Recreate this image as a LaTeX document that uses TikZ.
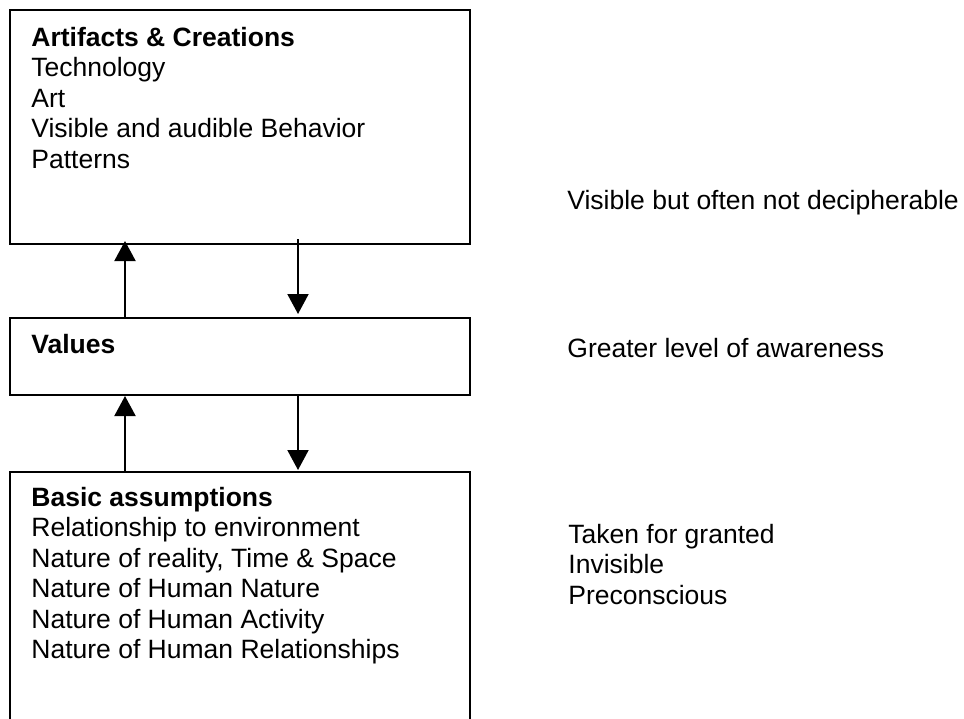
\documentclass[tikz,border=0pt]{standalone}
\usepackage{fontspec}
\setmainfont{Liberation Sans}
\usetikzlibrary{arrows.meta, positioning}

\begin{document}
\begin{tikzpicture}[x=0.5pt,y=0.5pt,yscale=-1,xscale=1,
  levelbox/.style={draw, line width=1pt, rectangle, inner sep=0pt, minimum width=230pt},
  boxtext/.style={anchor=base west, inner sep=0pt, align=left, font=\fontsize{13.25pt}{15.25pt}\selectfont},
  flow/.style={line width=1pt, -{Triangle[length=10pt, width=10.5pt]}}]
\useasboundingbox (0,0) rectangle (964,718);
\clip (0,0) rectangle (964,718);

% Level boxes
\node [levelbox, minimum height=117pt] (art) at (240,127) {};
\node [levelbox, minimum height=38.5pt] (val) at (240,356.5) {};
\node [levelbox, minimum height=150pt] (basic) at (240,622) {};

% Text Node (anchored at the baseline of the last line)
\node [boxtext] (arttext) at (31,168) {\textbf{Artifacts \& Creations}\\Technology\\Art\\Visible and audible Behavior\\Patterns};
% Text Node
\node [boxtext] (valtext) at (31,353) {\textbf{Values}};
% Text Node
\node [boxtext] (basictext) at (31,658.5) {\textbf{Basic assumptions}\\Relationship to environment\\Nature of reality, Time \& Space\\Nature of Human Nature\\Nature of Human Activity\\Nature of Human Relationships};

% Side notes
\node [boxtext] (artnote) at (567,209) {Visible but often not decipherable};
\node [boxtext] (valnote) at (567,357) {Greater level of awareness};
\node [boxtext] (basicnote) at (568,604) {Taken for granted\\Invisible\\Preconscious};

%Straight Lines
\coordinate (upx) at (125,0);
\coordinate (downx) at (298,0);
\draw [flow, shorten >=-2pt] (val.north -| upx) -- (art.south -| upx);
\draw [flow, shorten <=-3pt, shorten >=1.5pt] (art.south -| downx) -- (val.north -| downx);
\draw [flow] (basic.north -| upx) -- (val.south -| upx);
\draw [flow, shorten >=0.5pt] (val.south -| downx) -- (basic.north -| downx);

\end{tikzpicture}
\end{document}
